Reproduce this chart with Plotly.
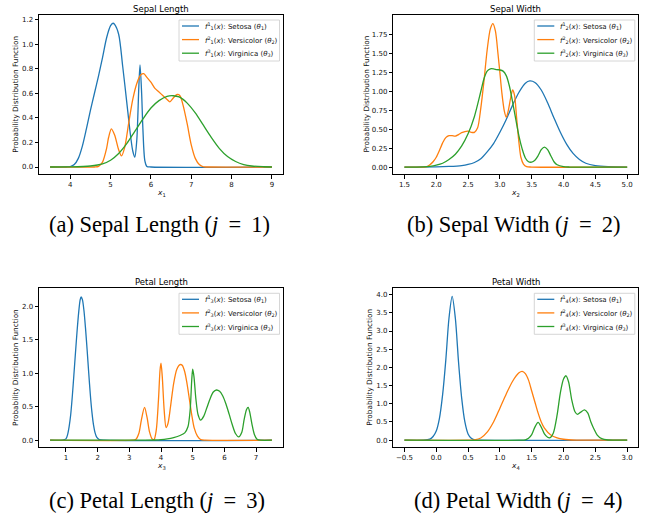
import plotly.graph_objects as go

# ---------------- data ----------------
# (a) Sepal length
sl_setosa_x = [3.5, 3.9, 4.0, 4.1, 4.2, 4.3, 4.4, 4.5, 4.6, 4.7, 4.8, 4.9, 5.0, 5.06, 5.1, 5.2, 5.3, 5.4, 5.5, 5.55, 5.6, 5.65, 5.7, 5.73, 5.77, 5.8, 5.85, 5.9, 6.0, 9.0]
sl_setosa_y = [0, 0, 0.003, 0.02, 0.07, 0.17, 0.31, 0.46, 0.6, 0.74, 0.89, 1.05, 1.15, 1.17, 1.16, 1.08, 0.82, 0.53, 0.24, 0.13, 0.08, 0.22, 0.65, 0.83, 0.6, 0.32, 0.05, 0.005, 0, 0]
sl_versi_x = [3.5, 4.6, 4.7, 4.8, 4.9, 4.95, 5.02, 5.1, 5.2, 5.27, 5.35, 5.45, 5.55, 5.65, 5.75, 5.82, 5.9, 6.0, 6.1, 6.2, 6.3, 6.4, 6.47, 6.55, 6.65, 6.72, 6.8, 6.9, 7.0, 7.1, 7.2, 7.3, 7.4, 9.0]
sl_versi_y = [0, 0, 0.005, 0.04, 0.15, 0.24, 0.31, 0.26, 0.14, 0.09, 0.16, 0.36, 0.55, 0.68, 0.75, 0.76, 0.73, 0.69, 0.64, 0.61, 0.58, 0.55, 0.53, 0.56, 0.59, 0.58, 0.5, 0.35, 0.18, 0.07, 0.02, 0.002, 0, 0]
sl_virgi_x = [3.5, 4.0, 4.5, 4.8, 5.0, 5.2, 5.4, 5.6, 5.8, 6.0, 6.2, 6.4, 6.55, 6.7, 6.9, 7.1, 7.3, 7.5, 7.7, 7.9, 8.1, 8.3, 8.5, 8.8, 9.0]
sl_virgi_y = [0, 0.001, 0.008, 0.025, 0.055, 0.11, 0.19, 0.29, 0.39, 0.48, 0.54, 0.575, 0.58, 0.57, 0.52, 0.44, 0.34, 0.24, 0.15, 0.085, 0.045, 0.02, 0.008, 0.002, 0]

# (b) Sepal width
sw_setosa_x = [1.5, 2.0, 2.2, 2.4, 2.5, 2.6, 2.7, 2.8, 2.9, 3.0, 3.1, 3.2, 3.3, 3.4, 3.47, 3.55, 3.65, 3.75, 3.85, 3.95, 4.05, 4.15, 4.25, 4.35, 4.5, 4.7, 5.0]
sw_setosa_y = [0, 0.002, 0.008, 0.02, 0.035, 0.06, 0.11, 0.2, 0.31, 0.46, 0.63, 0.82, 0.99, 1.11, 1.14, 1.12, 1.02, 0.85, 0.65, 0.46, 0.3, 0.18, 0.1, 0.05, 0.018, 0.004, 0]
sw_versi_x = [1.5, 1.8, 1.85, 1.9, 1.95, 2.0, 2.05, 2.1, 2.15, 2.2, 2.25, 2.3, 2.35, 2.4, 2.45, 2.5, 2.55, 2.6, 2.65, 2.7, 2.75, 2.8, 2.85, 2.89, 2.93, 2.97, 3.0, 3.03, 3.07, 3.1, 3.13, 3.17, 3.2, 3.23, 3.26, 3.3, 3.33, 3.37, 3.42, 3.5, 5.0]
sw_versi_y = [0, 0, 0.005, 0.03, 0.07, 0.13, 0.22, 0.32, 0.39, 0.415, 0.415, 0.41, 0.43, 0.455, 0.47, 0.475, 0.46, 0.46, 0.52, 0.78, 1.14, 1.55, 1.83, 1.9, 1.8, 1.5, 1.25, 0.99, 0.74, 0.66, 0.74, 0.92, 1.02, 0.95, 0.68, 0.32, 0.13, 0.04, 0.005, 0, 0]
sw_virgi_x = [1.5, 1.8, 1.9, 2.0, 2.1, 2.2, 2.3, 2.4, 2.5, 2.6, 2.7, 2.75, 2.8, 2.85, 2.9, 2.95, 3.0, 3.05, 3.1, 3.15, 3.2, 3.25, 3.3, 3.35, 3.4, 3.45, 3.5, 3.55, 3.6, 3.65, 3.7, 3.75, 3.8, 3.85, 3.9, 4.0, 4.1, 5.0]
sw_virgi_y = [0, 0.003, 0.01, 0.025, 0.05, 0.1, 0.17, 0.28, 0.44, 0.67, 1.0, 1.17, 1.27, 1.3, 1.3, 1.29, 1.285, 1.27, 1.21, 1.07, 0.86, 0.63, 0.41, 0.24, 0.12, 0.07, 0.065, 0.09, 0.15, 0.23, 0.265, 0.23, 0.15, 0.07, 0.03, 0.005, 0, 0]

# (c) Petal length
pl_setosa_x = [0.5, 0.9, 1.0, 1.05, 1.1, 1.15, 1.2, 1.25, 1.3, 1.35, 1.4, 1.45, 1.48, 1.52, 1.57, 1.62, 1.67, 1.72, 1.77, 1.82, 1.87, 1.92, 1.97, 2.05, 2.2, 7.5]
pl_setosa_y = [0, 0.001, 0.02, 0.08, 0.2, 0.38, 0.65, 0.97, 1.3, 1.62, 1.9, 2.1, 2.14, 2.1, 1.93, 1.66, 1.34, 1.0, 0.68, 0.42, 0.23, 0.11, 0.045, 0.01, 0, 0]
pl_versi_x = [0.5, 3.1, 3.2, 3.3, 3.38, 3.48, 3.56, 3.64, 3.72, 3.78, 3.85, 3.92, 3.97, 4.0, 4.04, 4.1, 4.16, 4.22, 4.3, 4.4, 4.5, 4.6, 4.67, 4.75, 4.82, 4.9, 4.97, 5.05, 5.15, 5.25, 5.4, 7.5]
pl_versi_y = [0, 0, 0.01, 0.1, 0.3, 0.49, 0.34, 0.12, 0.02, 0.01, 0.15, 0.6, 1.05, 1.15, 0.95, 0.45, 0.19, 0.25, 0.5, 0.85, 1.06, 1.13, 1.12, 1.02, 0.85, 0.6, 0.38, 0.18, 0.06, 0.01, 0, 0]
pl_virgi_x = [0.5, 3.5, 3.8, 4.0, 4.2, 4.4, 4.6, 4.75, 4.85, 4.92, 4.97, 5.0, 5.04, 5.1, 5.17, 5.25, 5.35, 5.45, 5.55, 5.65, 5.75, 5.85, 5.95, 6.05, 6.15, 6.25, 6.35, 6.45, 6.55, 6.62, 6.7, 6.75, 6.8, 6.87, 6.95, 7.03, 7.15, 7.5]
pl_virgi_y = [0, 0, 0.003, 0.008, 0.02, 0.04, 0.07, 0.11, 0.2, 0.45, 0.9, 1.06, 0.95, 0.62, 0.38, 0.3, 0.36, 0.49, 0.62, 0.72, 0.75, 0.73, 0.66, 0.54, 0.39, 0.23, 0.1, 0.05, 0.12, 0.3, 0.46, 0.49, 0.42, 0.24, 0.08, 0.015, 0, 0]

# (d) Petal width
pw_setosa_x = [-0.5, -0.2, -0.1, -0.05, 0.0, 0.05, 0.1, 0.15, 0.2, 0.25, 0.3, 0.35, 0.4, 0.45, 0.5, 0.55, 0.6, 0.7, 3.0]
pw_setosa_y = [0, 0, 0.03, 0.1, 0.25, 0.6, 1.25, 2.2, 3.35, 3.95, 3.35, 2.15, 1.15, 0.5, 0.17, 0.05, 0.01, 0, 0]
pw_versi_x = [-0.5, 0.5, 0.6, 0.7, 0.8, 0.9, 1.0, 1.1, 1.2, 1.3, 1.35, 1.4, 1.45, 1.5, 1.55, 1.6, 1.65, 1.7, 1.8, 1.9, 2.0, 2.2, 2.4, 3.0]
pw_versi_y = [0, 0, 0.01, 0.06, 0.22, 0.5, 0.88, 1.27, 1.62, 1.85, 1.89, 1.83, 1.65, 1.35, 1.05, 0.75, 0.5, 0.33, 0.14, 0.06, 0.025, 0.003, 0, 0]
pw_virgi_x = [-0.5, 1.3, 1.4, 1.45, 1.5, 1.55, 1.6, 1.65, 1.7, 1.75, 1.79, 1.84, 1.9, 1.95, 2.0, 2.04, 2.08, 2.13, 2.18, 2.22, 2.27, 2.33, 2.38, 2.43, 2.48, 2.53, 2.6, 2.7, 2.8, 3.0]
pw_virgi_y = [0, 0, 0.01, 0.05, 0.15, 0.36, 0.49, 0.36, 0.17, 0.08, 0.07, 0.2, 0.7, 1.3, 1.68, 1.77, 1.6, 1.1, 0.78, 0.71, 0.77, 0.83, 0.75, 0.5, 0.3, 0.14, 0.04, 0.005, 0, 0]

# tick labels
a_xticks = [4, 5, 6, 7, 8, 9]
a_xtext = ["4", "5", "6", "7", "8", "9"]
a_yticks = [0.0, 0.2, 0.4, 0.6, 0.8, 1.0, 1.2]
a_ytext = ["0.0", "0.2", "0.4", "0.6", "0.8", "1.0", "1.2"]
b_xticks = [1.5, 2.0, 2.5, 3.0, 3.5, 4.0, 4.5, 5.0]
b_xtext = ["1.5", "2.0", "2.5", "3.0", "3.5", "4.0", "4.5", "5.0"]
b_yticks = [0.0, 0.25, 0.5, 0.75, 1.0, 1.25, 1.5, 1.75]
b_ytext = ["0.00", "0.25", "0.50", "0.75", "1.00", "1.25", "1.50", "1.75"]
c_xticks = [1, 2, 3, 4, 5, 6, 7]
c_xtext = ["1", "2", "3", "4", "5", "6", "7"]
c_yticks = [0.0, 0.5, 1.0, 1.5, 2.0]
c_ytext = ["0.0", "0.5", "1.0", "1.5", "2.0"]
d_xticks = [-0.5, 0.0, 0.5, 1.0, 1.5, 2.0, 2.5, 3.0]
d_xtext = ["\u22120.5", "0.0", "0.5", "1.0", "1.5", "2.0", "2.5", "3.0"]
d_yticks = [0.0, 0.5, 1.0, 1.5, 2.0, 2.5, 3.0, 3.5, 4.0]
d_ytext = ["0.0", "0.5", "1.0", "1.5", "2.0", "2.5", "3.0", "3.5", "4.0"]

titles = ["Sepal Length", "Sepal Width", "Petal Length", "Petal Width"]
SP = "&#8201;&nbsp;"
captions = [f"(a) Sepal Length (<i>j</i>{SP}={SP}1)",
            f"(b) Sepal Width (<i>j</i>{SP}={SP}2)",
            f"(c) Petal Length (<i>j</i>{SP}={SP}3)",
            f"(d) Petal Width (<i>j</i>{SP}={SP}4)"]
class_names = ["Setosa", "Versicolor", "Virginica"]
colors = ["#1f77b4", "#ff7f0e", "#2ca02c"]

# ---------------- layout geometry (pixels) ----------------
W, H = 647, 514
panels = [  # left, top, right, bottom
    (39.0, 15.0, 283.0, 174.0),
    (393.3, 15.0, 638.3, 174.0),
    (39.0, 288.3, 283.0, 447.3),
    (393.3, 288.3, 638.3, 447.3),
]
xranges = [[3.225, 9.275], [1.325, 5.175], [0.15, 7.85], [-0.675, 3.175]]
yranges = [[-0.057, 1.237], [-0.092, 2.013], [-0.106, 2.27], [-0.196, 4.174]]
ylab_off = [23.7, 27.3, 23.7, 23.3]
caption_pos = [(159, 224), (514, 224), (157, 500), (518, 500)]

def px(x):
    return x / W

def py(y):
    return 1 - y / H

series = [
    [(sl_setosa_x, sl_setosa_y), (sl_versi_x, sl_versi_y), (sl_virgi_x, sl_virgi_y)],
    [(sw_setosa_x, sw_setosa_y), (sw_versi_x, sw_versi_y), (sw_virgi_x, sw_virgi_y)],
    [(pl_setosa_x, pl_setosa_y), (pl_versi_x, pl_versi_y), (pl_virgi_x, pl_virgi_y)],
    [(pw_setosa_x, pw_setosa_y), (pw_versi_x, pw_versi_y), (pw_virgi_x, pw_virgi_y)],
]
ticks = [
    (a_xticks, a_xtext, a_yticks, a_ytext),
    (b_xticks, b_xtext, b_yticks, b_ytext),
    (c_xticks, c_xtext, c_yticks, c_ytext),
    (d_xticks, d_xtext, d_yticks, d_ytext),
]

fig = go.Figure()
FONT = "DejaVu Sans"
TXT = "#111111"
annotations = []
shapes = []
layout = {}

for i in range(4):
    L, T, R, B = panels[i]
    xa = "x" if i == 0 else f"x{i+1}"
    ya = "y" if i == 0 else f"y{i+1}"
    for k, (xs, ys) in enumerate(series[i]):
        fig.add_trace(go.Scatter(
            x=xs, y=ys, mode="lines", xaxis=xa, yaxis=ya,
            line=dict(color=colors[k], width=1.3, shape="spline", smoothing=0.8),
            showlegend=False, hoverinfo="skip"))
    xt, xtt, yt, ytt = ticks[i]
    axcommon = dict(showline=True, linecolor="black", linewidth=1, mirror=True,
                    ticks="outside", ticklen=3.5, tickwidth=0.8, tickcolor="black",
                    showgrid=False, zeroline=False,
                    tickfont=dict(family=FONT, size=7, color=TXT))
    layout["xaxis" if i == 0 else f"xaxis{i+1}"] = dict(
        axcommon, domain=[px(L), px(R)], range=xranges[i], anchor=ya,
        tickvals=xt, ticktext=xtt)
    layout["yaxis" if i == 0 else f"yaxis{i+1}"] = dict(
        axcommon, domain=[py(B), py(T)], range=yranges[i], anchor=xa,
        tickvals=yt, ticktext=ytt)

    cx = (L + R) / 2
    # subplot title
    annotations.append(dict(x=px(cx), y=py(T - 6.0), xref="paper", yref="paper",
                            text=titles[i], showarrow=False,
                            font=dict(family=FONT, size=8.5, color="black"),
                            xanchor="center", yanchor="middle"))
    # x label
    annotations.append(dict(x=px(cx), y=py(B + 18.5), xref="paper", yref="paper",
                            text=f"<i>x</i><sub>{i+1}</sub>", showarrow=False,
                            font=dict(family=FONT, size=7.5, color=TXT),
                            xanchor="center", yanchor="middle"))
    # y label
    annotations.append(dict(x=px(L - ylab_off[i]), y=py((T + B) / 2), xref="paper", yref="paper",
                            text="Probability Distribution Function", showarrow=False,
                            textangle=-90,
                            font=dict(family=FONT, size=7.3, color=TXT),
                            xanchor="center", yanchor="middle"))
    # caption
    cxp, cyp = caption_pos[i]
    annotations.append(dict(x=px(cxp), y=py(cyp), xref="paper", yref="paper",
                            text=captions[i], showarrow=False,
                            font=dict(family="Liberation Serif", size=22.5, color="black"),
                            xanchor="center", yanchor="middle"))
    # legend box
    bl, br, bt, bb = R - 104, R - 3.5, T + 5, T + 46
    shapes.append(dict(type="rect", xref="paper", yref="paper",
                       x0=px(bl), x1=px(br), y0=py(bb), y1=py(bt),
                       line=dict(color="#cccccc", width=0.8),
                       fillcolor="rgba(255,255,255,0.8)", layer="above"))
    for k in range(3):
        ey = T + 11 + 13.6 * k
        shapes.append(dict(type="line", xref="paper", yref="paper",
                           x0=px(bl + 3), x1=px(bl + 20), y0=py(ey), y1=py(ey),
                           line=dict(color=colors[k], width=1.3), layer="above"))
        label = (f"<i>f</i><sup>{k+1}</sup><sub>{i+1}</sub>(<i>x</i>): "
                 f"{class_names[k]} (<i>θ</i><sub>{k+1}</sub>)")
        annotations.append(dict(x=px(bl + 23.5), y=py(ey), xref="paper", yref="paper",
                                text=label, showarrow=False,
                                font=dict(family=FONT, size=7, color=TXT),
                                xanchor="left", yanchor="middle"))

fig.update_layout(
    width=W, height=H, margin=dict(l=0, r=0, t=0, b=0),
    paper_bgcolor="white", plot_bgcolor="white",
    annotations=annotations, shapes=shapes, **layout)

fig.write_html("out.html", config={"displayModeBar": False},
               post_script="document.body.style.margin='0';document.body.style.overflow='hidden';")
